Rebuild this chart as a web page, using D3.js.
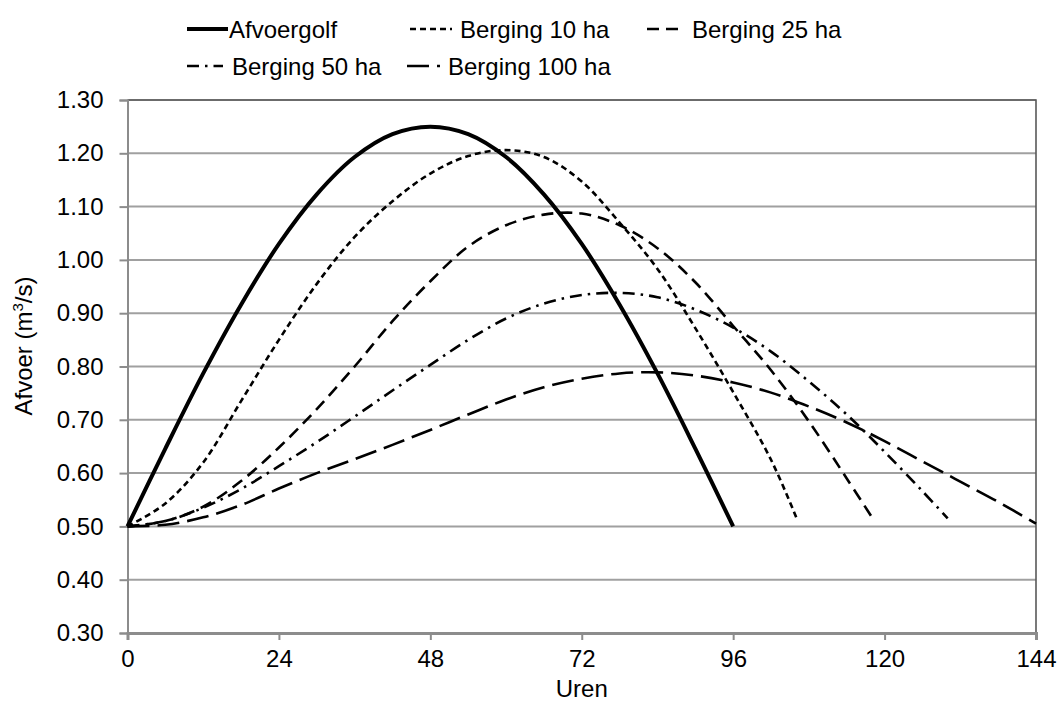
<!DOCTYPE html>
<html>
<head>
<meta charset="utf-8">
<script src="https://cdn.jsdelivr.net/npm/d3@7/dist/d3.min.js"></script>
<style>
    body { margin: 0; background: #fff; }
    svg { font-family: "Liberation Sans", Arial, sans-serif; }
    .axis path, .axis line { stroke: #8c8c8c; }
    .axis text { font-size: 24px; fill: #000; }
</style>
</head>
<body>
<svg id="chart" width="1062" height="702"></svg>
<script>
'use strict';

// Uren (x) en afvoer (m3/s) per reeks
const urenAfvoergolf = [0, 6, 12, 18, 24, 30, 36, 42, 48, 54, 60, 66, 72, 78, 84, 90, 96];
const afvoergolf = [0.50, 0.646, 0.787, 0.916, 1.03, 1.123, 1.193, 1.236, 1.25, 1.236, 1.193, 1.123, 1.03, 0.916, 0.787, 0.646, 0.50];

const urenBerging10 = [0, 6, 12, 18, 24, 30, 36, 42, 48, 54, 60, 66, 72, 78, 84, 90, 96, 102, 106];
const berging10 = [0.50, 0.543, 0.62, 0.735, 0.85, 0.955, 1.043, 1.11, 1.162, 1.195, 1.206, 1.193, 1.147, 1.07, 0.983, 0.872, 0.752, 0.625, 0.517];

const urenBerging25 = [0, 6, 12, 18, 24, 30, 36, 42, 48, 54, 60, 66, 72, 78, 84, 90, 96, 102, 108, 114, 118];
const berging25 = [0.50, 0.51, 0.537, 0.585, 0.648, 0.72, 0.80, 0.885, 0.96, 1.025, 1.065, 1.085, 1.087, 1.065, 1.022, 0.958, 0.876, 0.793, 0.697, 0.59, 0.517];

const urenBerging50 = [0, 6, 12, 18, 24, 30, 36, 42, 48, 54, 60, 66, 72, 78, 84, 90, 96, 102, 108, 114, 120, 126, 130];
const berging50 = [0.50, 0.51, 0.535, 0.57, 0.613, 0.658, 0.706, 0.755, 0.803, 0.85, 0.89, 0.918, 0.934, 0.938, 0.93, 0.907, 0.873, 0.828, 0.772, 0.71, 0.64, 0.566, 0.515];

const urenBerging100 = [0, 6, 12, 18, 24, 30, 36, 42, 48, 54, 60, 66, 72, 78, 84, 90, 96, 102, 108, 114, 120, 126, 132, 138, 144];
const berging100 = [0.50, 0.503, 0.517, 0.54, 0.571, 0.60, 0.626, 0.653, 0.681, 0.71, 0.738, 0.761, 0.777, 0.787, 0.789, 0.783, 0.77, 0.751, 0.725, 0.695, 0.66, 0.622, 0.584, 0.546, 0.505];

const reeksNamen = ['Afvoergolf', 'Berging 10 ha', 'Berging 25 ha', 'Berging 50 ha', 'Berging 100 ha'];
const xTicks = [0, 24, 48, 72, 96, 120, 144];
const yTicks = [0.3, 0.4, 0.5, 0.6, 0.7, 0.8, 0.9, 1.0, 1.1, 1.2, 1.3];

let plot = { left: 127.5, right: 1036, top: 100, bottom: 633 };

let x = d3.scaleLinear().domain([0, 144]).range([plot.left, plot.right]);
let y = d3.scaleLinear().domain([0.3, 1.3]).range([plot.bottom, plot.top]);

let svg = d3.select('#chart');

// gridlijnen
svg.append('g')
    .selectAll('line')
    .data(yTicks.slice(1))
  .enter().append('line')
    .attr('x1', plot.left).attr('x2', plot.right)
    .attr('y1', d => y(d)).attr('y2', d => y(d))
    .attr('stroke', '#a0a0a0')
    .attr('stroke-width', 2);

// rand boven en rechts
svg.append('path')
    .attr('d', `M${plot.left},${plot.top}H${plot.right}V${plot.bottom}`)
    .attr('fill', 'none')
    .attr('stroke', '#595959')
    .attr('stroke-width', 1.6);

let yAxis = svg.append('g')
    .attr('class', 'axis')
    .attr('transform', `translate(${plot.left},0)`)
    .call(d3.axisLeft(y).tickValues(yTicks).tickFormat(d3.format('.2f')).tickSize(8).tickPadding(16));
yAxis.selectAll('path, line').attr('stroke-width', 2);

let xAxis = svg.append('g')
    .attr('class', 'axis')
    .attr('transform', `translate(0,${plot.bottom})`)
    .call(d3.axisBottom(x).tickValues(xTicks).tickSize(7).tickPadding(10));
xAxis.select('path').attr('stroke-width', 3);
xAxis.selectAll('line').attr('stroke-width', 2);

// aslabels
svg.append('text')
    .attr('x', (plot.left + plot.right) / 2)
    .attr('y', 697)
    .attr('text-anchor', 'middle')
    .style('font-size', '24px')
    .text('Uren');

let yLabel = svg.append('text')
    .attr('transform', 'translate(32,346) rotate(-90)')
    .attr('text-anchor', 'middle')
    .style('font-size', '24px');
yLabel.append('tspan').text('Afvoer (m');
yLabel.append('tspan').attr('dy', -9).style('font-size', '15px').text('3');
yLabel.append('tspan').attr('dy', 9).text('/s)');

// reeksen
let reeksen = [
    { naam: reeksNamen[0], uren: urenAfvoergolf, waarden: afvoergolf, dash: null, breedte: 4 },
    { naam: reeksNamen[1], uren: urenBerging10, waarden: berging10, dash: '6,4', breedte: 2.6 },
    { naam: reeksNamen[2], uren: urenBerging25, waarden: berging25, dash: '12,7', breedte: 2.6 },
    { naam: reeksNamen[3], uren: urenBerging50, waarden: berging50, dash: '12,6,2.5,6', breedte: 2.6 },
    { naam: reeksNamen[4], uren: urenBerging100, waarden: berging100, dash: '22,8', breedte: 2.6 }
];

let line = d3.line()
    .x(d => x(d[0]))
    .y(d => y(d[1]))
    .curve(d3.curveCatmullRom.alpha(0.5));

svg.append('g')
    .selectAll('path')
    .data(reeksen)
  .enter().append('path')
    .attr('d', d => line(d.uren.map((u, i) => [u, d.waarden[i]])))
    .attr('fill', 'none')
    .attr('stroke', '#000')
    .attr('stroke-width', d => d.breedte)
    .attr('stroke-dasharray', d => d.dash);

// legenda
let legendPos = [
    { x: 187, y: 29, lijn: 41, tekst: 229 },
    { x: 410, y: 29, lijn: 42, tekst: 460 },
    { x: 647, y: 29, lijn: 36, tekst: 692 },
    { x: 187, y: 66, lijn: 36, tekst: 232 },
    { x: 407, y: 66, lijn: 33, tekst: 448 }
];

let legend = svg.append('g')
    .selectAll('g')
    .data(reeksen)
  .enter().append('g');

legend.append('line')
    .attr('x1', (d, i) => legendPos[i].x)
    .attr('x2', (d, i) => legendPos[i].x + legendPos[i].lijn)
    .attr('y1', (d, i) => legendPos[i].y)
    .attr('y2', (d, i) => legendPos[i].y)
    .attr('stroke', '#000')
    .attr('stroke-width', d => d.breedte)
    .attr('stroke-dasharray', d => d.dash);

legend.append('text')
    .attr('x', (d, i) => legendPos[i].tekst)
    .attr('y', (d, i) => legendPos[i].y + 8.5)
    .style('font-size', '24px')
    .text(d => d.naam);
</script>
</body>
</html>
